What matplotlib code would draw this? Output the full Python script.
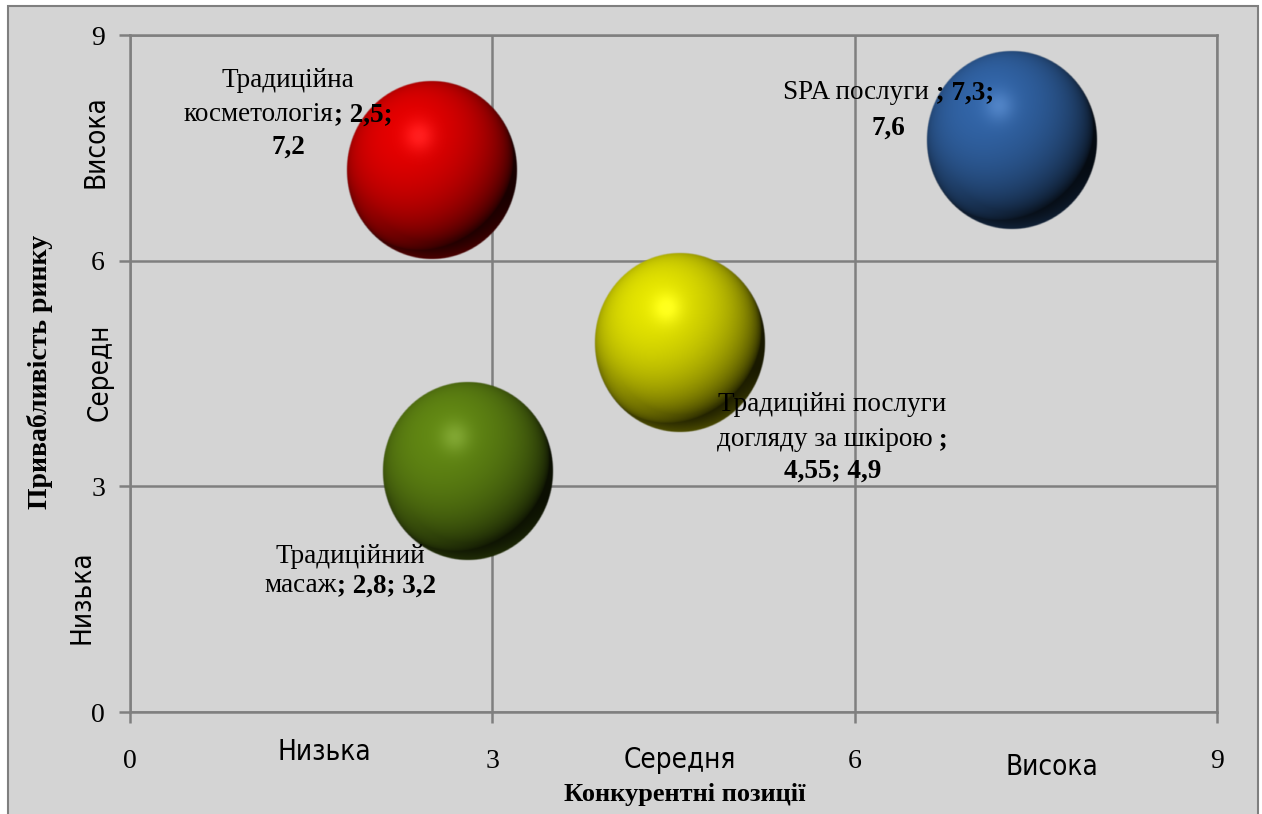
import numpy as np
import matplotlib
matplotlib.use('Agg')
import matplotlib.pyplot as plt
from matplotlib.patches import Rectangle

# bubble data: competitive position (x), market attractiveness (y)
names = ['Традиційна косметологія', 'SPA послуги', 'Традиційні послуги догляду за шкірою', 'Традиційний масаж']
xs = [2.5, 7.3, 4.55, 2.8]
ys = [7.2, 7.6, 4.9, 3.2]
colors = ['#d80000', '#2f5f9e', '#d8d800', '#5c8012']

# data labels: lines of (text, bold) pieces
label_lines = [
    [[('Традиційна', False)], [('косметологія', False), ('; 2,5;', True)], [('7,2', True)]],
    [[('SPA послуги', False), (' ; 7,3;', True)], [('7,6', True)]],
    [[('Традиційні послуги', False)], [('догляду за шкірою', False), (' ;', True)], [('4,55; 4,9', True)]],
    [[('Традиційний', False)], [('масаж', False), ('; 2,8; 3,2', True)]],
]
label_dx = [-144, -123, 153, -118]
label_dy = [[90, 56, 24], [48, 13], [-61, -96, -127], [-85, -114]]

ticks = [0, 3, 6, 9]
x_cats = ['Низька', 'Середня', 'Висока']
x_cat_pos = [1.61, 4.55, 7.63]
x_cat_off = [-40, -48, -55]
y_cats = ['Висока', 'Середн', 'Низька']
y_cat_pos = [7.58, 4.52, 1.52]
y_cat_off = [-35, -30, -48]

bg = '#d4d4d4'
gridc = '#7f7f7f'
serif = 'Liberation Serif'


def sphere(base, n=300):
    u, v = np.meshgrid(np.linspace(-1, 1, n), np.linspace(-1, 1, n))
    r = np.sqrt(u**2 + v**2)
    nz = np.sqrt(np.clip(1 - r**2, 0, 1))
    L = np.array([-0.3, 0.45, 0.84])
    L = L / np.linalg.norm(L)
    diff = np.clip(u*L[0] + v*L[1] + nz*L[2], 0, 1)
    shade = 0.12 + 0.95*diff**0.7
    rgb = np.array(matplotlib.colors.to_rgb(base))
    img = np.clip(rgb[None, None, :]*shade[..., None], 0, 1)
    spec = np.exp(-((u + 0.15)**2 + (v - 0.38)**2)/0.03)*0.12
    img = np.clip(img + spec[..., None], 0, 1)
    # faint reflected light at the bottom rim
    rim = np.clip((r - 0.8)/0.2, 0, 1)*np.clip(-v - 0.3, 0, 1)*0.35
    img = np.clip(img + rim[..., None]*rgb[None, None, :], 0, 1)
    alpha = np.clip((1 - r)/0.015, 0, 1)
    return np.dstack([img, alpha])


fig = plt.figure(figsize=(12.62, 8.14), dpi=100, facecolor='white')
fig.patches.append(Rectangle((8/1262, -0.01), 1250/1262, 808/814 + 0.01, transform=fig.transFigure,
                             fc=bg, ec=gridc, lw=1.5, zorder=-10))
ax = fig.add_axes([130/1262, 102/814, 1087/1262, 677/814])
ax.set_facecolor(bg)
ax.set_xlim(0, 9); ax.set_ylim(0, 9)
ax.set_xticks(ticks); ax.set_yticks(ticks)
ax.grid(color=gridc, lw=1.8)
ax.set_axisbelow(True)
for s in ax.spines.values():
    s.set_color(gridc); s.set_linewidth(1.8)
ax.tick_params(axis='both', length=8, width=1.8, color=gridc)
ax.tick_params(axis='y', pad=10)
ax.tick_params(axis='x', pad=19)
for t in ax.get_xticklabels() + ax.get_yticklabels():
    t.set_family(serif)
    t.set_fontsize(20)

# bubbles, radius given in pixels, converted through the axes scale
rx_px, ry_px = 86, 90
inv = ax.transData.inverted()
for x, y, c in zip(xs, ys, colors):
    cx, cy = ax.transData.transform((x, y))
    x0, y0 = inv.transform((cx - rx_px, cy - ry_px))
    x1, y1 = inv.transform((cx + rx_px, cy + ry_px))
    ax.imshow(sphere(c), extent=(x0, x1, y0, y1), origin='lower', aspect='auto',
              interpolation='bilinear', zorder=3)
ax.set_xlim(0, 9); ax.set_ylim(0, 9)

# data labels with mixed regular / bold pieces
renderer = fig.canvas.get_renderer()
for x, y, lines, dx, dys in zip(xs, ys, label_lines, label_dx, label_dy):
    for line, dy in zip(lines, dys):
        texts = []
        for seg, bold in line:
            t = ax.annotate(seg, (x, y), xytext=(0, dy - 7), textcoords='offset pixels',
                            ha='left', va='baseline', fontsize=19.5, family=serif,
                            fontweight='bold' if bold else 'normal', zorder=5)
            texts.append(t)
        widths = [t.get_window_extent(renderer).width for t in texts]
        cur = dx - sum(widths)/2
        for t, w in zip(texts, widths):
            t.xyann = (cur, dy - 7)
            cur += w

# category labels along both axes
xtr = ax.get_xaxis_transform()
for lab, p, off in zip(x_cats, x_cat_pos, x_cat_off):
    ax.annotate(lab, (p, 0), xycoords=xtr, xytext=(0, off), textcoords='offset pixels',
                ha='center', va='center', fontsize=20, family='DejaVu Sans',
                fontstretch='condensed', annotation_clip=False)
ytr = ax.get_yaxis_transform()
for lab, p, off in zip(y_cats, y_cat_pos, y_cat_off):
    ax.annotate(lab, (0, p), xycoords=ytr, xytext=(off, 0), textcoords='offset pixels',
                ha='center', va='center', fontsize=20, family='DejaVu Sans',
                fontstretch='condensed', rotation=90, annotation_clip=False)

fig.text(685/1262, 1 - 795/814, 'Конкурентні позиції', ha='center', va='center',
         fontsize=19, fontweight='bold', family=serif)
fig.text(40/1262, 1 - 372/814, 'Привабливість ринку', ha='center', va='center',
         fontsize=20, fontweight='bold', family=serif, rotation=90)

fig.savefig('out.png', dpi=100, facecolor='white')
